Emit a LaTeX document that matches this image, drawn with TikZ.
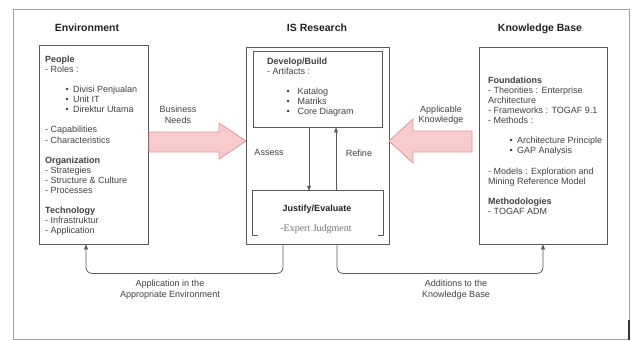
\documentclass[tikz,border=0pt]{standalone}
\usepackage{fontspec}
\setmainfont{Liberation Sans}
\newfontfamily\serifjf{Liberation Serif}
\usetikzlibrary{arrows.meta}
\definecolor{txt}{RGB}{64,64,64}
\definecolor{ttl}{RGB}{34,34,34}
\definecolor{boxline}{RGB}{90,90,90}
\definecolor{frameline}{RGB}{160,160,160}
\definecolor{pinkfill}{RGB}{248,204,204}
\definecolor{pinkline}{RGB}{226,150,150}
\newcommand{\bul}[3]{\hspace*{#1}\makebox[#2][l]{\textbullet}#3}
\begin{document}
\begin{tikzpicture}[x=1pt,y=-1pt,
  box/.style={draw=boxline,line width=0.8pt,rectangle,inner sep=0pt},
  titletext/.style={font=\fontsize{10.5}{12}\selectfont\bfseries,text=ttl,inner sep=0pt},
  bodytext/.style={font=\fontsize{9}{10.1}\selectfont,text=txt,align=left,inner sep=0pt,anchor=north west},
  lbl/.style={font=\fontsize{9}{10.5}\selectfont,text=txt,align=center,inner sep=0pt},
  conn/.style={draw=boxline,line width=0.8pt,-{Triangle[width=4pt,length=5pt]}},
  bigarrow/.style={fill=pinkfill,draw=pinkline,line width=0.8pt}]
\useasboundingbox (0,0) rectangle (634,340);
% outer frame
\draw[frameline,line width=0.8pt] (13,9) rectangle (629,339);
\draw[black!80,line width=2pt] (629,320) -- (629,340);

% titles
\node[titletext] (tenv) at (87,28) {Environment};
\node[titletext] (tis) at (317,28) {IS Research};
\node[titletext] (tkb) at (540,29) {Knowledge Base};

% boxes
\node[box,minimum width=109pt,minimum height=199pt] (env) at (93.5,144.5) {};
\node[box,minimum width=143pt,minimum height=197pt] (is) at (317.5,145.5) {};
\node[box,minimum width=129pt,minimum height=76pt] (dev) at (317.5,89) {};
\node[rectangle,inner sep=0pt,minimum width=130pt,minimum height=44pt] (just) at (318,213) {};
\draw[boxline,line width=0.8pt] ([xshift=5pt]just.south west) -- (just.south west) -- (just.north west) -- (just.north east) -- (just.south east) -- ([xshift=-5pt]just.south east);
\node[box,minimum width=128pt,minimum height=197pt] (kb) at (543,145.5) {};

% environment text
\node[bodytext] (envtext) at (45,55.5) {\textbf{People}\\
- Roles :\\[10.1pt]
\bul{20.5pt}{7.5pt}{Divisi Penjualan}\\
\bul{20.5pt}{7.5pt}{Unit IT}\\
\bul{20.5pt}{7.5pt}{Direktur Utama}\\[10.1pt]
- Capabilities\\
- Characteristics\\[10.1pt]
\textbf{Organization}\\
- Strategies\\
- Structure \& Culture\\
- Processes\\[10.1pt]
\textbf{Technology}\\
- Infrastruktur\\
- Application};

% develop text
\node[bodytext] (devtext) at (267,57.5) {\textbf{Develop/Build}\\
- Artifacts :\\[10.1pt]
\bul{19.5pt}{11pt}{Katalog}\\
\bul{19.5pt}{11pt}{Matriks}\\
\bul{19.5pt}{11pt}{Core Diagram}};

% justify text
\node[font=\fontsize{9}{10}\selectfont\bfseries,text=ttl,inner sep=0pt] (justt) at (317,209) {Justify/Evaluate};
\node[font=\fontsize{10}{11}\serifjf,text=black!55,inner sep=0pt] (expert) at (316,229) {-Expert Judgment};

% knowledge base text
\node[bodytext] (kbtext) at (488,76.5) {\textbf{Foundations}\\
- Theorities : Enterprise\\
Architecture\\
- Frameworks : TOGAF 9.1\\
- Methods :\\[10.1pt]
\bul{21.5pt}{7.5pt}{Architecture Principle}\\
\bul{21.5pt}{7.5pt}{GAP Analysis}\\[10.1pt]
- Models : Exploration and\\
Mining Reference Model\\[10.1pt]
\textbf{Methodologies}\\
- TOGAF ADM};

% big pink arrows
\draw[bigarrow] (149,132) -- (219,132) -- (219,123) -- (246,141) -- (219,159) -- (219,152) -- (149,152) -- cycle;
\draw[bigarrow] (472,131) -- (413,131) -- (413,119) -- (389,141) -- (413,163) -- (413,152) -- (472,152) -- cycle;
\node[lbl] (bneeds) at (178,115) {Business\\Needs};
\node[lbl] (aknow) at (441,115) {Applicable\\Knowledge};

% assess / refine
\draw[conn] ([xshift=-8.5pt]dev.south) -- ([xshift=-9pt]just.north);
\draw[conn] ([xshift=18pt]just.north) -- ([xshift=18.5pt]dev.south);
\node[lbl] (assess) at (269,152) {Assess};
\node[lbl] (refine) at (359,153) {Refine};

% bottom connectors
\draw[conn,rounded corners=6pt] ([xshift=-34.5pt]is.south) -- ++(0,29) -| ([xshift=-7.5pt]env.south);
\draw[conn,rounded corners=6pt] ([xshift=19.5pt]is.south) -- ++(0,29) -| (kb.south);
\node[lbl] (appenv) at (170,289.5) {Application in the\\Appropriate Environment};
\node[lbl] (addkb) at (456,289.5) {Additions to the\\Knowledge Base};
\end{tikzpicture}
\end{document}
